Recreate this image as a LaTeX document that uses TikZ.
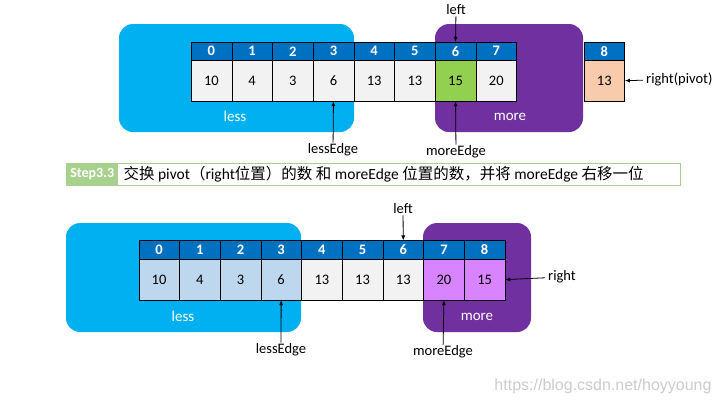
\documentclass[tikz,border=0pt]{standalone}
\usepackage{fontspec}
\setmainfont{Carlito}
\newfontfamily\cjk{Noto Sans CJK SC}
\newfontfamily\webfont{Liberation Sans}
\usetikzlibrary{arrows.meta,positioning}

\definecolor{lessblue}{HTML}{00B0F0}
\definecolor{morepurple}{HTML}{7030A0}
\definecolor{headblue}{HTML}{0070C0}
\definecolor{cellgrey}{HTML}{F2F2F2}
\definecolor{pivgreen}{HTML}{92D050}
\definecolor{pivpeach}{HTML}{F8CBAD}
\definecolor{lowblue}{HTML}{BDD7EE}
\definecolor{highviolet}{HTML}{D883FF}
\definecolor{stepgreen}{HTML}{A9D18E}

\tikzset{
  blobtext/.style={text=white, font=\fontsize{15}{17}\selectfont},
  idx/.style={draw, fill=headblue, text=white, font=\bfseries\fontsize{14.5}{16}\selectfont,
    minimum width=40.7pt, minimum height=18.5pt, inner sep=0pt},
  cell/.style={draw, fill=cellgrey, font=\fontsize{14.5}{16}\selectfont,
    minimum width=40.7pt, minimum height=40.5pt, inner sep=0pt},
  tag/.style={font=\fontsize{14.5}{16}\selectfont, inner sep=1pt},
  ptr/.style={-{Latex[length=5pt,width=4pt]}, line width=0.8pt}
}

\begin{document}
\begin{tikzpicture}[x=1pt, y=-1pt]
  \useasboundingbox (0,0) rectangle (720,405);

  % ---- before the swap
  \fill[lessblue, rounded corners=14pt] (119,24) rectangle (354,132);
  \fill[morepurple, rounded corners=14pt] (435,24) rectangle (583,132);
  \node[blobtext] (lessT) at (235,116) {less};
  \node[blobtext] (moreT) at (510,117) {more};

  \foreach \v [count=\i from 0] in {10,4,3,6,13,13,15,20} {
    \node[idx] (hT\i) at ({191+40.7*\i+20.35},51.25) {\i};
    \node[cell] (vT\i) at ({191+40.7*\i+20.35},80.75) {\v};
  }
  \node[cell, fill=pivgreen] at (vT6) {15};
  \node[idx] (hT8) at (604.3,51.25) {8};
  \node[cell, fill=pivpeach] (vT8) at (604.3,80.75) {13};

  \node[tag] (leftT) at (456,10) {left};
  \node[tag] (lessEdgeT) at (333,150) {lessEdge};
  \node[tag] (moreEdgeT) at (456,152) {moreEdge};
  \node[tag, anchor=west, inner sep=3pt] (rightT) at (643,79) {right(pivot)};
  \draw[ptr] (leftT) -- (hT6.north);
  \draw[ptr] (lessEdgeT) -- (vT3.south);
  \draw[ptr] (moreEdgeT) -- (vT6.south);
  \draw[ptr] (rightT) -- (vT8.east);

  % ---- step banner
  \node[draw=stepgreen, line width=1pt, anchor=west, minimum width=614pt, minimum height=22pt,
    inner sep=0pt] (banner) at (66,174) {};
  \node[fill=stepgreen, text=white, font=\bfseries\fontsize{14}{16}\selectfont, anchor=west,
    minimum width=52pt, minimum height=22pt, inner sep=0pt] (stepT) at (banner.west) {Step3.3};
  \node[anchor=west, inner sep=0pt, font=\fontsize{15.5}{18}\selectfont] (stepText) at ([xshift=5pt]stepT.east)
    {{\cjk 交换} pivot{\cjk （}right{\cjk 位置）的数} {\cjk 和} moreEdge {\cjk 位置的数，并将} moreEdge {\cjk 右移一位}};

  % ---- after the swap
  \fill[lessblue, rounded corners=14pt] (66,223) rectangle (301,332);
  \fill[morepurple, rounded corners=14pt] (423,223) rectangle (531,332);
  \node[blobtext] (lessB) at (183,316) {less};
  \node[blobtext] (moreB) at (477,317) {more};

  \foreach \v [count=\i from 0] in {10,4,3,6,13,13,13,20,15} {
    \node[idx] (hB\i) at ({138.7+40.7*\i+20.35},249.9) {\i};
    \node[cell] (vB\i) at ({138.7+40.7*\i+20.35},279.6) {\v};
  }
  \foreach \i/\v in {0/10,1/4,2/3,3/6}
    \node[cell, fill=lowblue] at (vB\i) {\v};
  \foreach \i/\v in {7/20,8/15}
    \node[cell, fill=highviolet] at (vB\i) {\v};

  \node[tag] (leftB) at (403,209) {left};
  \node[tag] (lessEdgeB) at (281,350) {lessEdge};
  \node[tag] (moreEdgeB) at (443,352) {moreEdge};
  \node[tag, anchor=west, inner sep=3pt] (rightB) at (545,277) {right};
  \draw[ptr] (leftB) -- (hB6.north);
  \draw[ptr] (lessEdgeB) -- (vB3.south);
  \draw[ptr] (moreEdgeB) -- (vB7.south);
  \draw[ptr] (rightB) -- (vB8.east);

  % watermark
  \node[text=black!20, font=\webfont\fontsize{16}{18}\selectfont] (mark) at (603,386) {https://blog.csdn.net/hoyyoung};
\end{tikzpicture}
\end{document}
